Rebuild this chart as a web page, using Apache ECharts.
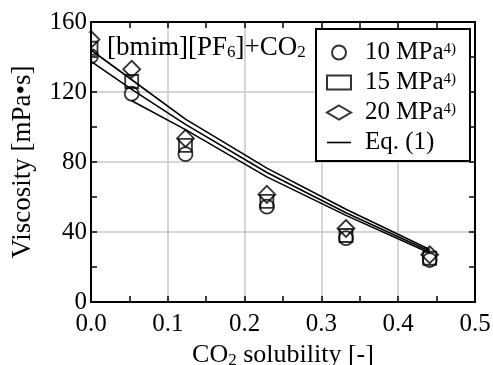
<!DOCTYPE html>
<html><head><meta charset="utf-8">
<script src="https://cdn.jsdelivr.net/npm/echarts@6/dist/echarts.min.js"></script>
<style>html,body{margin:0;padding:0;background:#fff}#c{width:493px;height:365px}</style>
</head><body><div id="c"></div>
<script>
const solubility = [0, 0.053, 0.123, 0.229, 0.332, 0.441];
const visc10 = [140.5, 119, 84.5, 54.5, 36.5, 24];
const visc15 = [145, 126, 89.5, 57.5, 38, 25];
const visc20 = [150, 133, 93.5, 61.5, 42, 27];
const eqTop = [144, 127, 104.5, 76.5, 53, 30];
const eqMid = [137.5, 121.5, 101.5, 74, 51, 29];
const eqLow = [null, 115, 98.5, 71.5, 49.5, 28];
const xTicks = ['0.0', '0.1', '0.2', '0.3', '0.4', '0.5'];
const yTicks = [0, 40, 80, 120, 160];

const FONT = 'Liberation Serif';
const pairs = (arr) => solubility.map((x, i) => [x, arr[i]]).filter(p => p[1] !== null);

const chart = echarts.init(document.getElementById('c'));
const marker = (sym, size) => ({
  type: 'scatter', symbol: sym, symbolSize: size, symbolKeepAspect: true, clip: false, z: 4,
  itemStyle: { color: 'rgba(0,0,0,0)', borderColor: '#000', borderWidth: 1.8 }
});
const eqLine = (arr) => ({
  type: 'line', name: 'Eq. (1)', data: pairs(arr), symbol: 'none', z: 3,
  lineStyle: { color: '#000', width: 1.6 }, itemStyle: { color: '#000' }
});
const xRange = { type: 'value', min: 0, max: 0.5, interval: 0.1 };
const yRange = { type: 'value', min: 0, max: 160, interval: 40 };
const frameAxis = (pos) => ({
  position: pos,
  axisLine: { show: true, onZero: false, lineStyle: { color: '#000', width: 2 } },
  axisTick: { show: false }, minorTick: { show: false },
  splitLine: { show: false }, axisLabel: { show: false }
});
// tick-only axes shifted into the plot so that their outward ticks point inward
const tickAxis = (pos) => ({
  position: pos, offset: -6,
  axisLine: { show: true, onZero: false, lineStyle: { color: 'rgba(0,0,0,0)', width: 1 } },
  axisTick: { show: true, length: 6, lineStyle: { color: '#000', width: 1.5 } },
  minorTick: { show: true, splitNumber: 2, length: 6, lineStyle: { color: '#000', width: 1.5 } },
  splitLine: { show: false }, axisLabel: { show: false }
});
const xIdx = (v) => xTicks.indexOf(v.toFixed(1));

chart.setOption({
  animation: false,
  textStyle: { fontFamily: FONT },
  grid: { left: 91, right: 18, top: 22, bottom: 63, outerBoundsMode: 'none', containLabel: false },
  legend: {
    orient: 'vertical', left: 316, top: 29,
    backgroundColor: '#fff', borderColor: '#000', borderWidth: 2,
    padding: [11, 14, 6, 10], itemGap: 5, itemWidth: 24, itemHeight: 14,
    data: [
      { name: '10 MPa' }, { name: '15 MPa' }, { name: '20 MPa' },
      { name: 'Eq. (1)', icon: 'path://M0,7 L24,7 L24,8.6 L0,8.6 Z' }
    ],
    formatter: (n) => n === 'Eq. (1)' ? '{a|' + n + '}' : '{a|' + n + '}{s|4)}',
    textStyle: {
      fontFamily: FONT, color: '#000',
      rich: {
        a: { fontFamily: FONT, fontSize: 25, color: '#000', lineHeight: 22, padding: [0, 0, 0, 9] },
        s: { fontFamily: FONT, fontSize: 15, color: '#000', verticalAlign: 'top', lineHeight: 22 }
      }
    }
  },
  xAxis: [
    Object.assign({}, xRange, frameAxis('bottom'), {
      splitLine: { show: true, lineStyle: { color: '#c8c8c8', width: 1.5 } },
      axisLabel: { show: true, fontFamily: FONT, fontSize: 25, color: '#000', margin: 10,
        formatter: (v) => xTicks[xIdx(v)] },
      name: '{a|CO}{s|2}{a| solubility [-]}', nameLocation: 'middle', nameGap: 33,
      nameTextStyle: { rich: {
        a: { fontFamily: FONT, fontSize: 26, color: '#000', lineHeight: 28 },
        s: { fontFamily: FONT, fontSize: 17, color: '#000', verticalAlign: 'bottom', lineHeight: 28 }
      } }
    }),
    Object.assign({}, xRange, frameAxis('top')),
    Object.assign({}, xRange, tickAxis('bottom')),
    Object.assign({}, xRange, tickAxis('top'))
  ],
  yAxis: [
    Object.assign({}, yRange, frameAxis('left'), {
      splitLine: { show: true, lineStyle: { color: '#c8c8c8', width: 1.5 } },
      axisLabel: { show: true, fontFamily: FONT, fontSize: 25, color: '#000', margin: 4,
        formatter: (v) => String(yTicks[yTicks.indexOf(v)]) },
      name: 'Viscosity [mPa•s]', nameLocation: 'middle', nameGap: 55, nameMoveOverlap: false,
      nameTextStyle: { fontFamily: FONT, fontSize: 27, color: '#000' }
    }),
    Object.assign({}, yRange, frameAxis('right')),
    Object.assign({}, yRange, tickAxis('left')),
    Object.assign({}, yRange, tickAxis('right'))
  ],
  series: [
    Object.assign(marker('circle', 14), { name: '10 MPa', data: pairs(visc10) }),
    Object.assign(marker('rect', 13), { name: '15 MPa', data: pairs(visc15) }),
    Object.assign(marker('diamond', 17), { name: '20 MPa', data: pairs(visc20) }),
    eqLine(eqTop), eqLine(eqMid), eqLine(eqLow)
  ]
});

// mask marker halves outside the plot at x=0, and place the annotation text
const p0 = chart.convertToPixel({ xAxisIndex: 0, yAxisIndex: 0 }, [0, 154]);
const p1 = chart.convertToPixel({ xAxisIndex: 0, yAxisIndex: 0 }, [0, 132]);
chart.setOption({
  graphic: [
    { type: 'rect', z: 100, shape: { x: p0[0] - 14, y: p0[1], width: 13, height: p1[1] - p0[1] },
      style: { fill: '#fff' } },
    { type: 'text', z: 100, left: 107, top: 34,
      style: {
        text: '{a|[bmim][PF}{s|6}{a|]+CO}{s|2}',
        rich: {
          a: { fontFamily: FONT, fontSize: 27, fill: '#000', lineHeight: 28 },
          s: { fontFamily: FONT, fontSize: 17, fill: '#000', verticalAlign: 'bottom', lineHeight: 28 }
        }
      } }
  ]
});
</script></body></html>
